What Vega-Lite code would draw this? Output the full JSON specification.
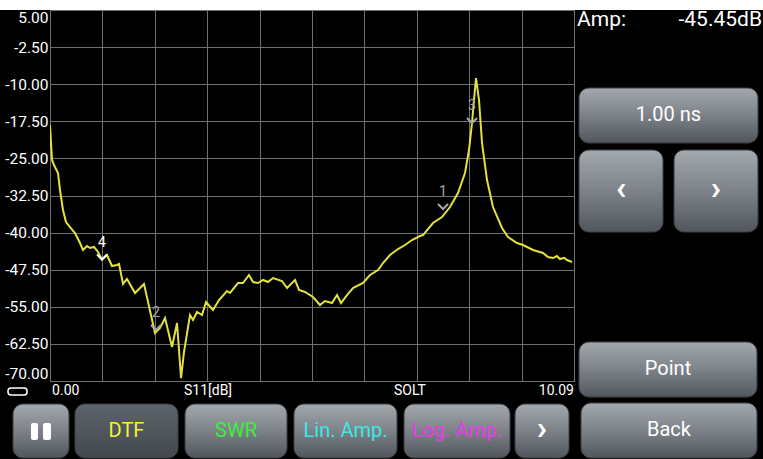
{
  "$schema": "https://vega.github.io/schema/vega-lite/v6.json",
  "width": 524,
  "height": 371,
  "autosize": {"type": "none"},
  "padding": {"left": 50, "top": 10, "right": 189, "bottom": 78},
  "background": "#000000",
  "config": {
    "view": {"stroke": "#9a9a9a", "strokeWidth": 1},
    "font": "Roboto",
    "text": {"font": "Roboto"}
  },
  "resolve": {"scale": {"color": "independent"}, "legend": {"color": "independent"}},
  "datasets": {
    "trace": [
      {"x": 0.000, "y": -18.25}, {"x": 0.039, "y": -25.32}, {"x": 0.077, "y": -26.33}, {"x": 0.154, "y": -27.95},
      {"x": 0.193, "y": -31.39}, {"x": 0.250, "y": -35.43}, {"x": 0.308, "y": -37.86}, {"x": 0.385, "y": -38.87},
      {"x": 0.481, "y": -40.08}, {"x": 0.578, "y": -42.10}, {"x": 0.635, "y": -43.52}, {"x": 0.712, "y": -42.71},
      {"x": 0.770, "y": -43.11}, {"x": 0.847, "y": -42.91}, {"x": 0.924, "y": -43.92}, {"x": 1.001, "y": -45.45},
      {"x": 1.098, "y": -44.53}, {"x": 1.194, "y": -46.75}, {"x": 1.290, "y": -46.55}, {"x": 1.329, "y": -46.35},
      {"x": 1.406, "y": -50.39}, {"x": 1.483, "y": -49.38}, {"x": 1.637, "y": -52.21}, {"x": 1.810, "y": -50.39},
      {"x": 2.022, "y": -60.30}, {"x": 2.118, "y": -59.29}, {"x": 2.215, "y": -57.27}, {"x": 2.349, "y": -63.13},
      {"x": 2.446, "y": -58.28}, {"x": 2.523, "y": -69.40}, {"x": 2.580, "y": -64.14}, {"x": 2.696, "y": -56.66},
      {"x": 2.754, "y": -57.67}, {"x": 2.831, "y": -56.05}, {"x": 2.927, "y": -56.66}, {"x": 3.004, "y": -54.03},
      {"x": 3.139, "y": -55.65}, {"x": 3.254, "y": -53.63}, {"x": 3.408, "y": -51.81}, {"x": 3.466, "y": -52.21},
      {"x": 3.620, "y": -50.19}, {"x": 3.716, "y": -50.19}, {"x": 3.832, "y": -48.57}, {"x": 3.909, "y": -49.99},
      {"x": 4.005, "y": -50.19}, {"x": 4.102, "y": -49.58}, {"x": 4.198, "y": -49.99}, {"x": 4.294, "y": -49.18},
      {"x": 4.467, "y": -49.79}, {"x": 4.564, "y": -51.20}, {"x": 4.718, "y": -49.58}, {"x": 4.795, "y": -51.60},
      {"x": 4.910, "y": -52.01}, {"x": 5.064, "y": -53.02}, {"x": 5.199, "y": -54.64}, {"x": 5.295, "y": -53.83},
      {"x": 5.430, "y": -54.23}, {"x": 5.527, "y": -52.62}, {"x": 5.603, "y": -54.23}, {"x": 5.719, "y": -52.62},
      {"x": 5.834, "y": -51.20}, {"x": 6.027, "y": -50.19}, {"x": 6.162, "y": -48.57}, {"x": 6.316, "y": -47.56},
      {"x": 6.412, "y": -46.15}, {"x": 6.547, "y": -44.53}, {"x": 6.701, "y": -43.32}, {"x": 6.836, "y": -42.51},
      {"x": 6.971, "y": -41.50}, {"x": 7.125, "y": -40.69}, {"x": 7.182, "y": -40.49}, {"x": 7.375, "y": -38.06},
      {"x": 7.548, "y": -36.85}, {"x": 7.702, "y": -34.83}, {"x": 7.856, "y": -32.00}, {"x": 7.991, "y": -27.95},
      {"x": 8.068, "y": -23.30}, {"x": 8.126, "y": -17.84}, {"x": 8.164, "y": -13.19}, {"x": 8.203, "y": -8.75},
      {"x": 8.261, "y": -13.19}, {"x": 8.319, "y": -21.89}, {"x": 8.415, "y": -29.37}, {"x": 8.530, "y": -34.83},
      {"x": 8.704, "y": -39.07}, {"x": 8.819, "y": -40.89}, {"x": 8.993, "y": -42.10}, {"x": 9.108, "y": -42.51},
      {"x": 9.301, "y": -43.52}, {"x": 9.493, "y": -44.12}, {"x": 9.590, "y": -44.93}, {"x": 9.686, "y": -45.14},
      {"x": 9.760, "y": -44.73}, {"x": 9.820, "y": -45.34}, {"x": 9.900, "y": -45.10}, {"x": 9.955, "y": -45.54},
      {"x": 10.052, "y": -45.94}
    ],
    "markers": [
      {"id": "1", "x": 7.568, "y": -35.23},
      {"id": "2", "x": 2.041, "y": -59.69},
      {"id": "3", "x": 8.126, "y": -17.84},
      {"id": "4", "x": 1.001, "y": -45.45}
    ],
    "buttons": [
      {"label": "pause", "x": -0.712, "x2": 0.366, "y": -74.65, "y2": -85.57},
      {"label": "SWR", "x": 2.600, "x2": 4.564, "y": -74.65, "y2": -85.57},
      {"label": "Lin. Amp.", "x": 4.698, "x2": 6.682, "y": -74.65, "y2": -85.57},
      {"label": "Log. Amp.", "x": 6.817, "x2": 8.858, "y": -74.65, "y2": -85.57},
      {"label": "more", "x": 8.954, "x2": 9.994, "y": -74.65, "y2": -85.57},
      {"label": "Back", "x": 10.225, "x2": 13.614, "y": -74.45, "y2": -85.57},
      {"label": "1.00 ns", "x": 10.186, "x2": 13.633, "y": -10.77, "y2": -21.89},
      {"label": "prev", "x": 10.186, "x2": 11.804, "y": -23.30, "y2": -39.88},
      {"label": "next", "x": 12.016, "x2": 13.633, "y": -23.30, "y2": -39.88},
      {"label": "Point", "x": 10.186, "x2": 13.614, "y": -62.12, "y2": -73.24}
    ],
    "selected": [
      {"label": "DTF", "x": 0.481, "x2": 2.465, "y": -74.65, "y2": -85.57}
    ],
    "buttonText": [
      {"label": "DTF", "x": 1.473, "y": -80.11},
      {"label": "SWR", "x": 3.582, "y": -80.11},
      {"label": "Lin. Amp.", "x": 5.690, "y": -80.11},
      {"label": "Log. Amp.", "x": 7.837, "y": -80.11},
      {"label": "Back", "x": 11.919, "y": -79.91},
      {"label": "1.00 ns", "x": 11.910, "y": -16.23},
      {"label": "Point", "x": 11.900, "y": -67.58}
    ],
    "chevrons": [
      {"label": "›", "x": 9.474, "y": -80.11},
      {"label": "‹", "x": 10.995, "y": -31.59},
      {"label": "›", "x": 12.824, "y": -31.59}
    ],
    "pauseBars": [
      {"x": -0.366, "x2": -0.231, "y": -78.49, "y2": -81.93},
      {"x": -0.135, "x2": 0.019, "y": -78.49, "y2": -81.93}
    ],
    "battery": [
      {"x": -0.809, "x2": -0.443, "y": -71.42, "y2": -72.83}
    ],
    "topStrip": [
      {"x": -0.97, "x2": 13.75, "y": 5, "y2": 7.2}
    ]
  },
  "encoding": {
    "x": {
      "field": "x", "type": "quantitative",
      "scale": {"domain": [0, 10.09], "nice": false, "zero": false},
      "axis": {
        "values": [0, 1.009, 2.018, 3.027, 4.036, 5.045, 6.054, 7.063, 8.072, 9.081, 10.09],
        "labels": false, "ticks": false, "domain": false, "grid": true,
        "gridColor": "#707070", "gridWidth": 1, "title": null
      }
    },
    "y": {
      "field": "y", "type": "quantitative",
      "scale": {"domain": [-70, 5], "nice": false, "zero": false},
      "axis": {
        "values": [5, -2.5, -10, -17.5, -25, -32.5, -40, -47.5, -55, -62.5, -70],
        "labelExpr": "replace(format(datum.value, '.2f'), '\u2212', '-')",
        "labelColor": "#ffffff", "labelFont": "Roboto", "labelFontSize": 15.5,
        "labelPadding": 2, "labelFlush": true,
        "ticks": false, "domain": false, "grid": true,
        "gridColor": "#707070", "gridWidth": 1, "title": null
      }
    }
  },
  "layer": [
    {
      "data": {"name": "topStrip"},
      "mark": {"type": "rect", "color": "#ffffff"},
      "encoding": {"x2": {"field": "x2"}, "y2": {"field": "y2"}}
    },
    {
      "data": {"name": "trace"},
      "mark": {"type": "line", "color": "#e2e23c", "strokeWidth": 2, "clip": true}
    },
    {
      "data": {"name": "markers"},
      "mark": {"type": "point", "shape": "M-1,-1L0,0L1,-1", "filled": false, "strokeWidth": 2, "size": 100, "opacity": 1},
      "encoding": {
        "color": {"field": "id", "type": "nominal", "scale": {"domain": ["1", "2", "3", "4"], "range": ["#a8a8a8", "#a8a8a8", "#a8a8a8", "#ffffff"]}, "legend": null}
      }
    },
    {
      "data": {"name": "markers"},
      "mark": {"type": "text", "dy": -17, "fontSize": 14, "baseline": "middle"},
      "encoding": {
        "text": {"field": "id"},
        "color": {"field": "id", "type": "nominal", "scale": {"domain": ["1", "2", "3", "4"], "range": ["#a8a8a8", "#a8a8a8", "#a8a8a8", "#ffffff"]}, "legend": null}
      }
    },
    {
      "data": {"name": "buttons"},
      "mark": {
        "type": "rect", "cornerRadius": 10, "stroke": "#3a3f44", "strokeWidth": 1,
        "fill": {"gradient": "linear", "x1": 0, "y1": 0, "x2": 0, "y2": 1,
          "stops": [{"offset": 0, "color": "#a3a8ad"}, {"offset": 0.5, "color": "#7c8288"}, {"offset": 1, "color": "#50565c"}]}
      },
      "encoding": {"x2": {"field": "x2"}, "y2": {"field": "y2"}}
    },
    {
      "data": {"name": "selected"},
      "mark": {
        "type": "rect", "cornerRadius": 10, "stroke": "#3a3f44", "strokeWidth": 1,
        "fill": {"gradient": "linear", "x1": 0, "y1": 0, "x2": 0, "y2": 1,
          "stops": [{"offset": 0, "color": "#5e646b"}, {"offset": 1, "color": "#43484e"}]}
      },
      "encoding": {"x2": {"field": "x2"}, "y2": {"field": "y2"}}
    },
    {
      "data": {"name": "buttonText"},
      "mark": {"type": "text", "fontSize": 20, "baseline": "middle", "align": "center"},
      "encoding": {
        "text": {"field": "label"},
        "color": {"field": "label", "type": "nominal",
          "scale": {"domain": ["DTF", "SWR", "Lin. Amp.", "Log. Amp.", "Back", "1.00 ns", "Point"],
            "range": ["#f2f23a", "#3cef3c", "#3ce8e8", "#e83ce8", "#ffffff", "#ffffff", "#ffffff"]},
          "legend": null}
      }
    },
    {
      "data": {"name": "chevrons"},
      "mark": {"type": "text", "fontSize": 34, "fontWeight": "bold", "baseline": "middle", "align": "center", "color": "#ffffff", "dy": -2},
      "encoding": {"text": {"field": "label"}}
    },
    {
      "data": {"name": "pauseBars"},
      "mark": {"type": "rect", "color": "#ffffff", "cornerRadius": 2},
      "encoding": {"x2": {"field": "x2"}, "y2": {"field": "y2"}}
    },
    {
      "data": {"name": "battery"},
      "mark": {"type": "rect", "filled": false, "stroke": "#ffffff", "strokeWidth": 1.5, "cornerRadius": 3},
      "encoding": {"x2": {"field": "x2"}, "y2": {"field": "y2"}}
    },
    {
      "data": {"values": [{"t": "0.00", "x": 0.04, "y": -72.02}]},
      "mark": {"type": "text", "fontSize": 14, "align": "left", "baseline": "middle", "color": "#ffffff"},
      "encoding": {"text": {"field": "t"}}
    },
    {
      "data": {"values": [{"t": "S11[dB]", "x": 3.043, "y": -72.02}, {"t": "SOLT", "x": 6.932, "y": -72.02}]},
      "mark": {"type": "text", "fontSize": 14, "align": "center", "baseline": "middle", "color": "#ffffff"},
      "encoding": {"text": {"field": "t"}}
    },
    {
      "data": {"values": [{"t": "10.09", "x": 10.09, "y": -72.02}]},
      "mark": {"type": "text", "fontSize": 14, "align": "right", "baseline": "middle", "color": "#ffffff"},
      "encoding": {"text": {"field": "t"}}
    },
    {
      "data": {"values": [{"t": "Amp:", "x": 10.148, "y": 2.98}]},
      "mark": {"type": "text", "fontSize": 21, "align": "left", "baseline": "middle", "color": "#ffffff"},
      "encoding": {"text": {"field": "t"}}
    },
    {
      "data": {"values": [{"t": "-45.45dB", "x": 13.71, "y": 2.98}]},
      "mark": {"type": "text", "fontSize": 21, "align": "right", "baseline": "middle", "color": "#ffffff"},
      "encoding": {"text": {"field": "t"}}
    }
  ]
}
